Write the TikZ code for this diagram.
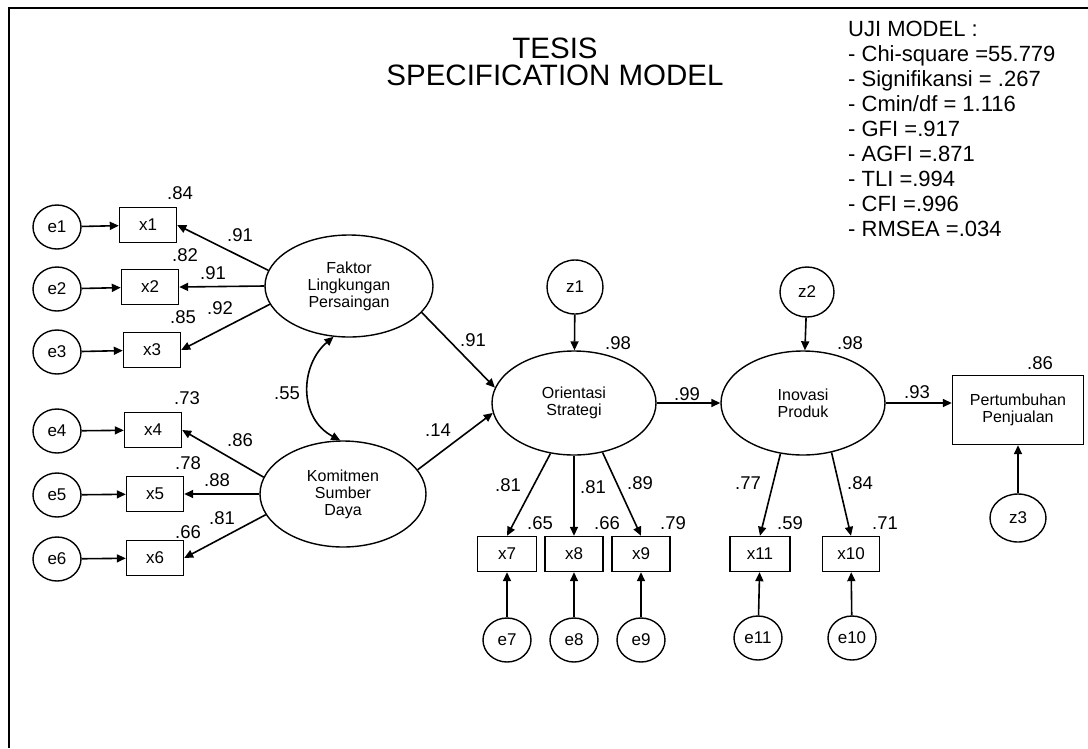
\documentclass[tikz,border=0pt]{standalone}
\usepackage{fontspec}
\setmainfont{Liberation Sans}
\usetikzlibrary{arrows.meta,shapes.geometric}
\begin{document}
\begin{tikzpicture}[x=1pt,y=-1pt,
  every node/.style={inner sep=0pt},
  obs/.style={draw,line width=1.4pt,minimum width=57pt,minimum height=35pt,font=\fontsize{17}{17}\selectfont},
  err/.style={draw,ellipse,line width=1.4pt,minimum width=48pt,minimum height=44pt,font=\fontsize{17}{17}\selectfont},
  lat/.style={draw,ellipse,line width=1.4pt,minimum width=166pt,minimum height=104pt,align=center,font=\fontsize{16}{17}\selectfont},
  lab/.style={font=\fontsize{18.5}{18.5}\selectfont},
  arr/.style={line width=1.6pt,-{Triangle[length=9pt,width=8pt]}},
  dbl/.style={line width=1.6pt,{Triangle[length=9pt,width=8pt]}-{Triangle[length=9pt,width=8pt]}},
  frame/.style={line width=2pt},
  title/.style={font=\fontsize{29.5}{29.5}\selectfont},
  stat/.style={align=left,anchor=north west,font=\fontsize{22}{25}\selectfont}
]
\useasboundingbox (0,0) rectangle (1088,748);
% frame
\coordinate (tl) at (9,8);
\coordinate (tr) at (1088,8);
\coordinate (bl) at (9,748);
\draw[frame] (tr) -- (tl) -- (bl);

% title and statistics
\node[title] (t1) at (555,48) {TESIS};
\node[title] (t2) at (555,75) {SPECIFICATION MODEL};
\node[stat] (st) at (848,21) {UJI MODEL :\\
- Chi-square =55.779\\
- Signifikansi = .267\\
- Cmin/df = 1.116\\
- GFI =.917\\
- AGFI =.871\\
- TLI =.994\\
- CFI =.996\\
- RMSEA =.034};

% indicators left
\node[err] (e1) at (57,227) {e1};
\node[err] (e2) at (57,289) {e2};
\node[err] (e3) at (57,352) {e3};
\node[err] (e4) at (57,431) {e4};
\node[err] (e5) at (57,495) {e5};
\node[err] (e6) at (57,559) {e6};
\node[obs] (x1) at (148,225) {x1};
\node[obs] (x2) at (150,287) {x2};
\node[obs] (x3) at (152,350) {x3};
\node[obs] (x4) at (153,430) {x4};
\node[obs] (x5) at (155,494) {x5};
\node[obs] (x6) at (155,558) {x6};

% latent
\node[lat,minimum width=168pt,minimum height=102pt] (F) at (349,286) {Faktor\\Lingkungan\\Persaingan};
\node[lat,minimum width=166pt,minimum height=106pt] (K) at (343,494) {Komitmen\\Sumber\\Daya};
\node[lat,minimum width=164pt,minimum height=104pt] (O) at (574,403) {Orientasi\\Strategi};
\node[lat,minimum width=164pt,minimum height=104pt] (I) at (803,403) {Inovasi\\Produk};
\node[draw,line width=1.4pt,minimum width=131pt,minimum height=69pt,align=center,font=\fontsize{16}{17}\selectfont] (P) at (1018,410) {Pertumbuhan\\Penjualan};

% disturbances
\node[err,minimum width=56pt,minimum height=54pt] (z1) at (575,287) {z1};
\node[err,minimum width=54pt,minimum height=50pt] (z2) at (807,292) {z2};
\node[err,minimum width=56pt,minimum height=48pt] (z3) at (1018,518) {z3};

% indicators bottom
\node[obs,minimum width=59pt] (x7) at (507,554) {x7};
\node[obs,minimum width=58pt] (x8) at (574,554) {x8};
\node[obs,minimum width=58pt] (x9) at (641,554) {x9};
\node[obs,minimum width=60pt] (x11) at (760,554) {x11};
\node[obs,minimum width=57pt] (x10) at (851,554) {x10};
\node[err] (e7) at (507,640) {e7};
\node[err] (e8) at (574,640) {e8};
\node[err] (e9) at (641,640) {e9};
\node[err] (e11) at (758,638) {e11};
\node[err] (e10) at (852,638) {e10};

% error arrows
\foreach \i in {1,...,6} {\draw[arr] (e\i) -- (x\i);}
\foreach \i in {7,8,9,10,11} {\draw[arr] (e\i) -- (x\i);}
\draw[arr] (z1) -- (O);
\draw[arr] (z2) -- (I);
\draw[arr] (z3) -- (P);

% loadings
\draw[arr] (F.169) -- (x1.east);
\draw[arr] (F.180) -- (x2.east);
\draw[arr] (F.193) -- (x3.east);
\draw[arr] (K.168) -- (x4.east);
\draw[arr] (K.180) -- (x5.east);
\draw[arr] (K.195) -- (x6.east);
\draw[arr] (O.245) -- (x7.north);
\draw[arr] (O.270) -- (x8.north);
\draw[arr] (O.300) -- (x9.north);
\draw[arr] (I.246) -- (x11.north);
\draw[arr] (I.300) -- (x10.north);

% structural
\draw[arr] (F.340) -- (O.169);
\draw[arr] (K.18) -- (O.187);
\draw[arr] (O.east) -- (I.west);
\draw[arr] (I.east) -- (I.east -| P.west);
\draw[dbl] (F.253) .. controls (300,365) and (298,418) .. (K.93);

% labels
\node[lab] (l1) at (180,193) {.84};
\node[lab] (l2) at (240,235) {.91};
\node[lab] (l3) at (185,255) {.82};
\node[lab] (l4) at (213,273) {.91};
\node[lab] (l5) at (183,317) {.85};
\node[lab] (l6) at (220,308) {.92};
\node[lab] (l7) at (187,398) {.73};
\node[lab] (l8) at (240,440) {.86};
\node[lab] (l9) at (188,463) {.78};
\node[lab] (l10) at (217,480) {.88};
\node[lab] (l11) at (188,532) {.66};
\node[lab] (l12) at (222,518) {.81};
\node[lab] (l13) at (287,393) {.55};
\node[lab] (l14) at (473,340) {.91};
\node[lab] (l15) at (438,430) {.14};
\node[lab] (l16) at (618,343) {.98};
\node[lab] (l17) at (687,394) {.99};
\node[lab] (l18) at (850,343) {.98};
\node[lab] (l19) at (917,392) {.93};
\node[lab] (l20) at (1040,363) {.86};
\node[lab] (l21) at (508,485) {.81};
\node[lab] (l22) at (593,487) {.81};
\node[lab] (l23) at (640,483) {.89};
\node[lab] (l24) at (540,523) {.65};
\node[lab] (l25) at (607,523) {.66};
\node[lab] (l26) at (673,523) {.79};
\node[lab] (l27) at (748,483) {.77};
\node[lab] (l28) at (860,483) {.84};
\node[lab] (l29) at (790,523) {.59};
\node[lab] (l30) at (885,523) {.71};
\end{tikzpicture}
\end{document}
